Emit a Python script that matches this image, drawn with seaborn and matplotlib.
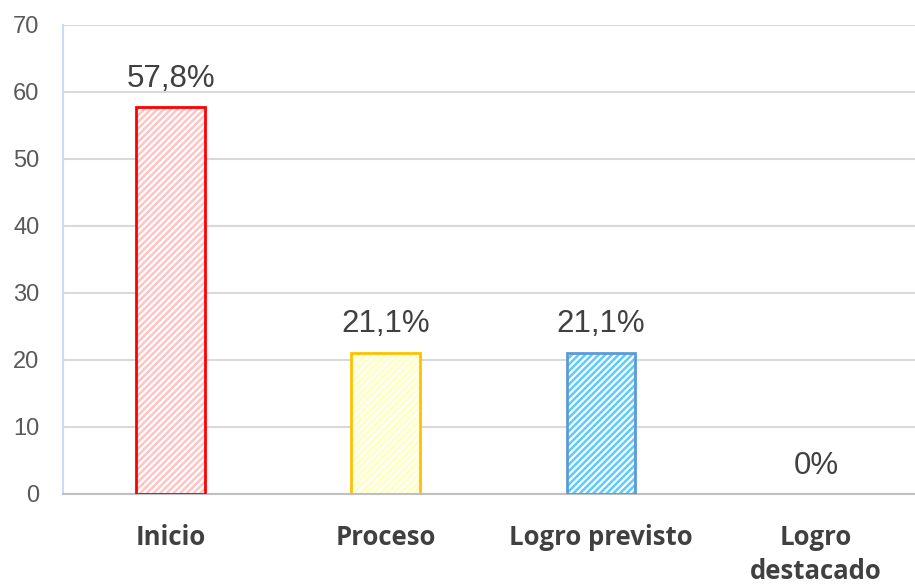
import matplotlib
matplotlib.use('Agg')
import matplotlib.pyplot as plt
import seaborn as sns
import pandas as pd

# Data
categories = ['Inicio', 'Proceso', 'Logro previsto', 'Logro\ndestacado']
values = [57.8, 21.1, 21.1, 0]
labels = ['57,8%', '21,1%', '21,1%', '0%']
edge_colors = ['#FF0000', '#FFC000', '#5B9BD5', 'none']
hatch_colors = ['#FFC4C4', '#FFFFBE', '#5CCBFF', '#FFFFFF']

sns.set_style("white")
plt.rcParams['font.family'] = ['Liberation Sans', 'DejaVu Sans']
plt.rcParams['hatch.linewidth'] = 1.8

df = pd.DataFrame({'cat': categories, 'val': values})

fig = plt.figure(figsize=(9.15, 5.88), dpi=100)
ax = fig.add_axes([0.069, 0.16, 0.931, 0.7975])

# hatched fill layer
sns.barplot(data=df, x='cat', y='val', hue='cat', palette=hatch_colors,
            width=0.32, legend=False, ax=ax, zorder=2)
for patch, hc in zip(ax.patches, hatch_colors):
    patch.set_facecolor('white')
    patch.set_edgecolor(hc)
    patch.set_hatch('/////')
    patch.set_linewidth(0)

# outline layer
sns.barplot(data=df, x='cat', y='val', hue='cat',
            palette=[c if c != 'none' else '#FFFFFF' for c in edge_colors],
            width=0.32, legend=False, fill=False, linewidth=2, ax=ax, zorder=3)
for patch, ec in zip(ax.patches[len(values):], edge_colors):
    if ec == 'none':
        patch.set_visible(False)

ax.set_ylim(0, 70)
ax.set_xlim(-0.5, 3.46)
ax.set_yticks(range(0, 71, 10))
ax.yaxis.grid(True, color='#D9D9D9', linewidth=1.5, zorder=0)
ax.set_axisbelow(True)
ax.set_xlabel('')
ax.set_ylabel('')

for s in ['top', 'right']:
    ax.spines[s].set_visible(False)
ax.spines['left'].set_color('#C9DCF0')
ax.spines['left'].set_linewidth(1.5)
ax.spines['bottom'].set_color('#BFBFBF')
ax.spines['bottom'].set_linewidth(1.5)

ax.tick_params(axis='y', length=0, pad=17, labelsize=17, labelcolor='#595959')
ax.tick_params(axis='x', length=0, pad=22)
ax.set_xticks(range(len(categories)))
ax.set_xticklabels(categories, fontsize=18.5, fontweight='bold', color='#404040',
                   family=['Open Sans', 'DejaVu Sans'], linespacing=1.33, va='top')

for i, (v, lab) in enumerate(zip(values, labels)):
    ax.text(i, v + 3.0, lab, ha='center', va='baseline', fontsize=22.5, color='#404040')

fig.savefig('out.png', dpi=100)
